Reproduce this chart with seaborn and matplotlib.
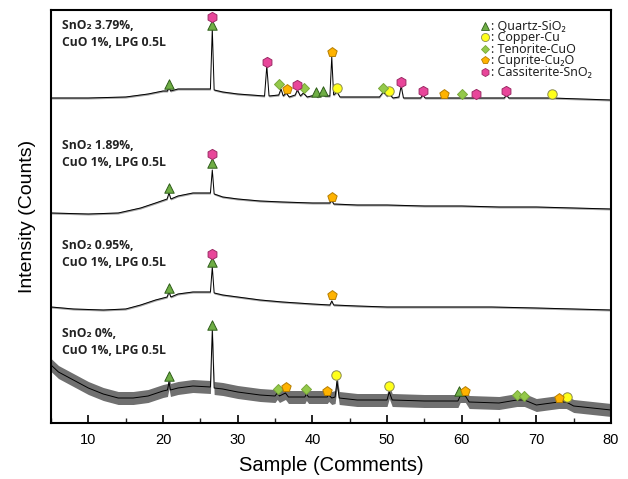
import matplotlib
matplotlib.use("Agg")
import matplotlib.pyplot as plt
import seaborn as sns
import pandas as pd
from matplotlib.lines import Line2D
from matplotlib.ticker import MultipleLocator

# ---------------- data ----------------
# two-theta (deg) and intensity (arbitrary counts, traces stacked with offsets)
x_379 = [5, 10, 15, 18, 20, 20.6, 20.8, 21, 22, 24, 26.35, 26.6, 26.85, 28, 30, 33.6, 33.9, 34.2,
         35.5, 35.8, 36.1, 36.5, 36.9, 37.7, 38.0, 38.4, 38.8, 39.3, 40.4, 40.7, 41.3, 41.7, 42.35,
         42.6, 42.85, 43.3, 43.7, 46, 49, 49.5, 50, 50.3, 50.8, 51.6, 51.9, 52.2, 54.5, 54.8, 55.1,
         58, 61.6, 61.9, 62.2, 65.7, 66, 66.3, 72, 80]
y_379 = [325, 325, 326, 329, 332, 332, 336, 332, 334, 334, 334, 394, 333, 331, 329, 327, 357, 327,
         328, 334, 327, 330, 326, 328, 333, 327, 330, 326, 328, 326, 329, 327, 327,
         366, 328, 331, 326, 326, 326, 331, 327, 329, 325, 326, 337, 325, 325, 328, 325,
         325, 325, 327, 325, 325, 328, 325, 325, 323]

x_189 = [5, 10, 14, 17, 19, 20.55, 20.8, 21.05, 22, 24, 26.35, 26.6, 26.85, 28, 30, 33, 36, 40,
         42.35, 42.6, 42.85, 46, 50, 55, 60, 65, 70, 75, 80]
y_189 = [210, 209, 210, 215, 220, 224, 230, 224, 227, 230, 230, 253, 229, 226, 224, 222, 221, 220,
         220, 223, 219, 218, 218, 217, 217, 216, 216, 215, 214]

x_095 = [5, 8, 12, 15, 17, 19, 20.55, 20.8, 21.05, 22, 24, 26.35, 26.6, 26.85, 28, 30, 33, 36, 40,
         42.35, 42.6, 42.85, 46, 50, 55, 60, 64, 70, 75, 80]
y_095 = [116, 114, 113, 114, 118, 123, 126, 131, 126, 129, 131, 131, 156, 130, 128, 126, 123, 121, 119,
         118, 122, 118, 117, 116, 116, 116, 116, 115, 114, 113]

x_000 = [5, 6, 8, 10, 12, 14, 16, 18, 20, 20.6, 20.8, 21, 22, 24, 26.35, 26.6, 26.85, 28, 30, 33,
         35, 35.3, 35.6, 36.4, 36.8, 39, 39.2, 39.5, 42, 42.2, 42.6, 43.05, 43.3, 43.6, 46, 50,
         50.3, 50.7, 55, 59.5, 59.8, 60.5, 61, 65, 67.4, 68.4, 70, 73, 74, 75, 80]
y_000 = [58, 51, 43, 35, 29, 25, 25, 27, 32, 33, 41, 33, 35, 37, 36, 93, 35, 34, 31, 28,
         27, 30, 27, 30, 26, 26, 29, 26, 26, 28, 25, 26, 42, 25, 23, 23,
         31, 23, 22, 22, 27, 27, 21, 20, 23, 23, 18, 21, 21, 17, 13]

# noise amplitude (half-width of the noisy band) per trace
noise_half = [1.0, 1.0, 1.0, 6.5]

sample_labels = ["SnO\u2082 3.79%,\nCuO 1%, LPG 0.5L",
                 "SnO\u2082 1.89%,\nCuO 1%, LPG 0.5L",
                 "SnO\u2082 0.95%,\nCuO 1%, LPG 0.5L",
                 "SnO\u2082 0%,\nCuO 1%, LPG 0.5L"]
label_y = [404, 284, 184, 96]

# phase markers: x, y
quartz_x = [20.8, 26.6, 40.5, 41.4, 20.8, 26.6, 20.8, 26.6, 20.8, 26.6, 59.6]
quartz_y = [339, 398, 331, 332, 235, 260, 135, 161, 47, 98, 32]
copper_x = [43.3, 50.3, 72.1, 43.2, 50.3, 74.1]
copper_y = [335, 332, 329, 48, 37, 26]
tenorite_x = [35.6, 38.9, 49.4, 60.0, 35.4, 39.1, 67.4, 68.4]
tenorite_y = [339, 335, 335, 329, 34, 34, 28, 27]
cuprite_x = [36.6, 42.6, 57.7, 42.6, 42.6, 36.5, 42.0, 60.5, 73.0]
cuprite_y = [334, 371, 329, 226, 128, 36, 32, 32, 25]
cass_x = [26.6, 33.9, 38.0, 51.9, 54.8, 61.9, 66.0, 26.6, 26.6]
cass_y = [406, 361, 338, 341, 332, 329, 332, 269, 169]

phase_names = [": Quartz-SiO\u2082", ": Copper-Cu", ": Tenorite-CuO",
               ": Cuprite-Cu\u2082O", ": Cassiterite-SnO\u2082"]

x_ticks = [10, 20, 30, 40, 50, 60, 70, 80]

# ---------------- styling ----------------
sns.set_theme(style="white")
plt.rcParams['font.family'] = ['Liberation Sans', 'DejaVu Sans']

fig = plt.figure(figsize=(6.28, 4.79), dpi=100)
ax = fig.add_axes([51 / 628, 1 - 423 / 479, 560 / 628, 413 / 479])

traces = [(x_379, y_379), (x_189, y_189), (x_095, y_095), (x_000, y_000)]
for (xs, ys), h in zip(traces, noise_half):
    df = pd.DataFrame({"x": xs, "y": ys})
    ax.fill_between(df["x"], df["y"] - h, df["y"] + h, color="#333333",
                    alpha=0.45 if h < 2 else 0.7, lw=0, zorder=2)
    sns.lineplot(data=df, x="x", y="y", ax=ax, color="black", lw=0.7, sort=False,
                 estimator=None, zorder=3)

styles = [
    (quartz_x, quartz_y, "^", "#6fae45", "#2f5e1a", 46),
    (copper_x, copper_y, "o", "#ffff1a", "#8a8a50", 46),
    (tenorite_x, tenorite_y, "D", "#94c94a", "#7aa83a", 26),
    (cuprite_x, cuprite_y, "p", "#ffb300", "#b57d00", 50),
    (cass_x, cass_y, "h", "#e8469a", "#9c2a65", 54),
]
for xs, ys, m, fc, ec, s in styles:
    sns.scatterplot(x=xs, y=ys, ax=ax, marker=m, color=fc, edgecolor=ec, linewidth=0.7,
                    s=s, zorder=5, legend=False)

for lab, ly in zip(sample_labels, label_y):
    ax.text(6.5, ly, lab, fontsize=8.7, fontweight="bold", va="top", ha="left",
            family=["Open Sans", "DejaVu Sans"], linespacing=1.45, color="#222222")

handles = []
for (xs, ys, m, fc, ec, s), name in zip(styles, phase_names):
    handles.append(Line2D([], [], ls="none", marker=m, markerfacecolor=fc, markeredgecolor=ec,
                          markeredgewidth=0.6, markersize=5.8 if m != "D" else 4.4))
leg = ax.legend(handles, phase_names, loc="upper right", bbox_to_anchor=(0.981, 0.997),
                frameon=False, handlelength=0.6, handletextpad=0.15, labelspacing=-0.12,
                borderpad=0.2, prop={"family": ["Noto Sans", "DejaVu Sans"], "size": 9})
for t in leg.get_texts():
    t.set_color("#222222")

ax.set_xlim(5, 80)
ax.set_ylim(0, 413)
ax.set_xticks(x_ticks)
ax.xaxis.set_minor_locator(MultipleLocator(5))
ax.set_yticks([])
ax.tick_params(axis="x", which="major", direction="in", length=6, width=1.2, pad=7,
               labelsize=10.5, bottom=True, top=False, colors="black")
ax.tick_params(axis="x", which="minor", direction="in", length=3.5, width=1.0, bottom=True, top=False)
for sp in ax.spines.values():
    sp.set_visible(True)
    sp.set_color("black")
    sp.set_linewidth(1.5)

ax.set_xlabel("Sample (Comments)", fontsize=14.5, labelpad=7, color="black")
ax.set_ylabel("Intensity (Counts)", fontsize=14, labelpad=11, color="black")

fig.savefig("out.png", dpi=100)
